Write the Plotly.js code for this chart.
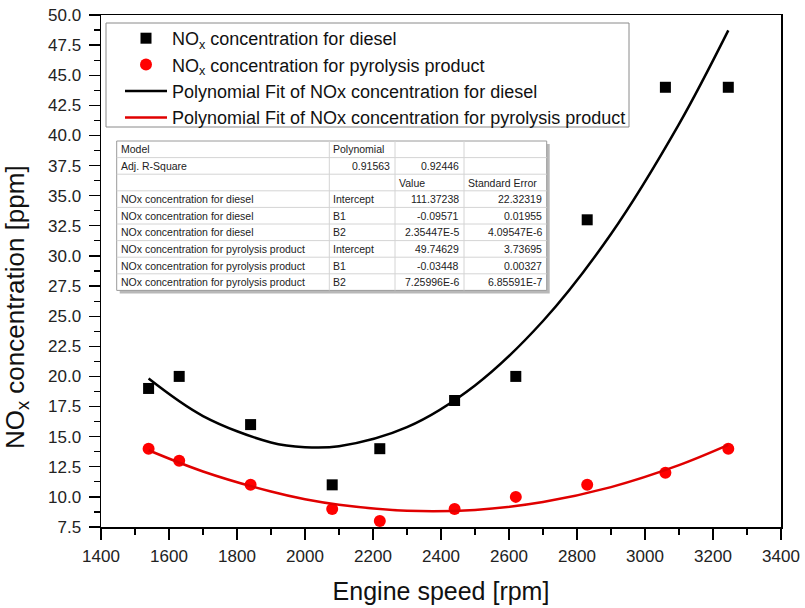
<!DOCTYPE html>
<html>
<head>
<meta charset="utf-8">
<script src="https://cdn.plot.ly/plotly-3.0.1.min.js"></script>
<style>html,body{margin:0;padding:0;background:#fff;}#chart{width:805px;height:608px;}</style>
</head>
<body>
<div id="chart"></div>
<script>
// ---- data ----
const speed = [1540, 1630, 1840, 2080, 2220, 2440, 2620, 2830, 3060, 3245];
const noxDiesel = [19, 20, 16, 11, 14, 18, 20, 33, 44, 44];
const noxPyro = [14, 13, 11, 9, 8, 9, 10, 11, 12, 14];

const fitSpeed = [1540, 1700, 1900, 2000, 2100, 2300, 2500, 2700, 2900, 3100, 3245];
const fitDiesel = [19.82, 16.71, 14.52, 14.13, 14.21, 15.79, 19.25, 24.60, 31.82, 40.94, 48.72];
const fitPyro = [13.87, 12.11, 10.44, 9.80, 9.35, 8.85, 8.92, 9.58, 10.81, 12.63, 14.31];

const xTicks = [1400, 1600, 1800, 2000, 2200, 2400, 2600, 2800, 3000, 3200, 3400];
const yTicks = [7.5, 10, 12.5, 15, 17.5, 20, 22.5, 25, 27.5, 30, 32.5, 35, 37.5, 40, 42.5, 45, 47.5, 50];
const yTickText = yTicks.map(v => v.toFixed(1));

// fit statistics table
const tableCol1 = ["Model", "Adj. R-Square", "", "NOx concentration for diesel", "NOx concentration for diesel", "NOx concentration for diesel",
  "NOx concentration for pyrolysis product", "NOx concentration for pyrolysis product", "NOx concentration for pyrolysis product"];
const tableCol2 = ["Polynomial", "0.91563", "", "Intercept", "B1", "B2", "Intercept", "B1", "B2"];
const tableCol3 = ["", "0.92446", "Value", "111.37238", "-0.09571", "2.35447E-5", "49.74629", "-0.03448", "7.25996E-6"];
const tableCol4 = ["", "", "Standard Error", "22.32319", "0.01955", "4.09547E-6", "3.73695", "0.00327", "6.85591E-7"];

// ---- layout geometry ----
const L = 101, R = 781, T = 15, B = 527;
const pxX = x => (x - L) / (R - L);
const pxY = y => (B - y) / (B - T);
const FONT = "Liberation Sans, Arial, sans-serif";

const traces = [
  {x: speed, y: noxDiesel, type: "scatter", mode: "markers", name: "NO<sub>x</sub> concentration for diesel",
   marker: {symbol: "square", size: 11, color: "#000"}},
  {x: speed, y: noxPyro, type: "scatter", mode: "markers", name: "NO<sub>x</sub> concentration for pyrolysis product",
   marker: {symbol: "circle", size: 12, color: "#ff0000"}},
  {x: fitSpeed, y: fitDiesel, type: "scatter", mode: "lines", name: "Polynomial Fit of NOx concentration for diesel",
   line: {color: "#000", width: 2.5, shape: "spline"}},
  {x: fitSpeed, y: fitPyro, type: "scatter", mode: "lines", name: "Polynomial Fit of NOx concentration for pyrolysis product",
   line: {color: "#e00000", width: 2.5, shape: "spline"}}
];

const shapes = [];
const annotations = [];

// legend frame
shapes.push({type: "rect", xref: "paper", yref: "paper", x0: pxX(106), x1: pxX(629), y0: pxY(23), y1: pxY(127),
  fillcolor: "#fff", line: {color: "#8a8a8a", width: 1}, layer: "above"});

// table shapes & annotations
const colEdges = [116.7, 329.3, 395, 464, 546.7];
const rowTop = 141, rowH = 16.6;
const cols = [tableCol1, tableCol2, tableCol3, tableCol4];
const nRows = tableCol1.length;
const tBottom = rowTop + rowH * nRows;
shapes.push({type: "rect", xref: "paper", yref: "paper", x0: pxX(colEdges[0] + 3), x1: pxX(colEdges[4] + 3),
  y0: pxY(rowTop + 3), y1: pxY(tBottom + 3), fillcolor: "#b8b8b8", line: {width: 0}, layer: "above"});
shapes.push({type: "rect", xref: "paper", yref: "paper", x0: pxX(colEdges[0]), x1: pxX(colEdges[4]),
  y0: pxY(rowTop), y1: pxY(tBottom), fillcolor: "#fff", line: {color: "#9a9a9a", width: 1}, layer: "above"});
for (let r = 1; r < nRows; r++) {
  shapes.push({type: "line", xref: "paper", yref: "paper", x0: pxX(colEdges[0]), x1: pxX(colEdges[4]),
    y0: pxY(rowTop + r * rowH), y1: pxY(rowTop + r * rowH), line: {color: "#d4d4d4", width: 1}, layer: "above"});
}
for (let c = 1; c < 4; c++) {
  shapes.push({type: "line", xref: "paper", yref: "paper", x0: pxX(colEdges[c]), x1: pxX(colEdges[c]),
    y0: pxY(rowTop), y1: pxY(tBottom), line: {color: "#d4d4d4", width: 1}, layer: "above"});
}
cols.forEach((col, c) => {
  col.forEach((txt, r) => {
    if (!txt) return;
    const numeric = isFinite(Number(txt));
    const x = numeric ? colEdges[c + 1] - 3 : colEdges[c] + 2;
    annotations.push({xref: "paper", yref: "paper", x: pxX(x), y: pxY(rowTop + (r + 0.5) * rowH),
      xanchor: numeric ? "right" : "left", yanchor: "middle", showarrow: false, text: txt,
      font: {family: FONT, size: 10.5, color: "#222"}});
  });
});

// y axis title (placed like the original, below the axis centre)
annotations.push({xref: "paper", yref: "paper", x: pxX(16), y: pxY(307), xanchor: "center", yanchor: "middle",
  textangle: -90, showarrow: false, text: "NO<sub>x</sub> concentration [ppm]",
  font: {family: FONT, size: 26, color: "#111"}});

const layout = {
  width: 805, height: 608,
  margin: {l: L, r: 805 - R, t: T, b: 608 - B, pad: 0},
  paper_bgcolor: "#fff", plot_bgcolor: "#fff",
  font: {family: FONT, color: "#222"},
  showlegend: true,
  legend: {x: pxX(120), y: pxY(20), xanchor: "left", yanchor: "top", bgcolor: "rgba(0,0,0,0)",
    borderwidth: 0, font: {family: FONT, size: 18, color: "#111"}, itemwidth: 42, tracegroupgap: 0},
  xaxis: {range: [1400, 3400], tickvals: xTicks, ticktext: xTicks.map(String), ticks: "outside", ticklen: 11, tickwidth: 1.3,
    tickcolor: "#000", showline: true, linecolor: "#000", linewidth: 1.5, mirror: true, showgrid: false, zeroline: false,
    tickfont: {family: FONT, size: 17, color: "#222"}, ticklabelstandoff: 2,
    minor: {dtick: 100, tick0: 1400, ticks: "outside", ticklen: 6, tickcolor: "#000", tickwidth: 1.2, showgrid: false},
    title: {text: "Engine speed [rpm]", font: {family: FONT, size: 25, color: "#111"}, standoff: 17}},
  yaxis: {range: [7.5, 50], tickvals: yTicks, ticktext: yTickText, ticks: "outside", ticklen: 11, tickwidth: 1.3,
    tickcolor: "#000", showline: true, linecolor: "#000", linewidth: 1.5, mirror: true, showgrid: false, zeroline: false,
    tickfont: {family: FONT, size: 17, color: "#222"}, ticklabelstandoff: 4,
    minor: {dtick: 1.25, tick0: 7.5, ticks: "outside", ticklen: 6, tickcolor: "#000", tickwidth: 1.2, showgrid: false}},
  shapes: shapes,
  annotations: annotations
};

Plotly.newPlot("chart", traces, layout, {displayModeBar: false, staticPlot: true});
</script>
</body>
</html>
